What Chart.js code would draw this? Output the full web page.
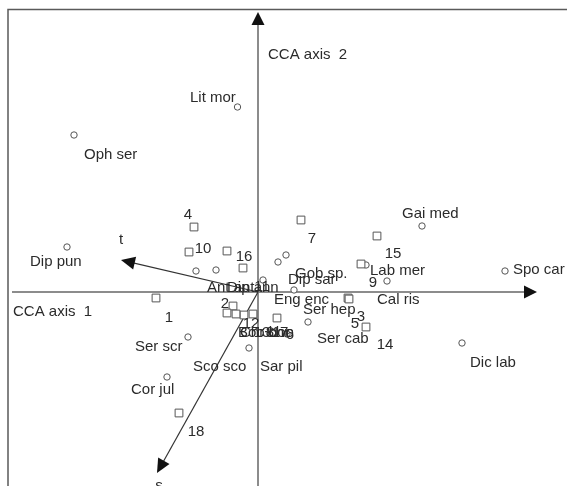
<!DOCTYPE html>
<html>
<head>
<meta charset="utf-8">
<script src="https://cdn.jsdelivr.net/npm/chart.js@4/dist/chart.umd.min.js"></script>
<style>
  html, body { margin: 0; padding: 0; background: #fff; overflow: hidden; }
  canvas { display: block; }
</style>
</head>
<body>
<canvas id="cca" width="567" height="486"></canvas>
<script>
// CCA biplot: species scores (circles), site scores (squares), environmental vectors (arrows)

// Species scores on CCA axis 1 / axis 2 (null = label only)
const speciesNames = ["Lit mor", "Oph ser", "Dip pun", "Gai med", "Spo car", "Dic lab", "Lab mer", "Cal ris",
  "Gob sp.", "Dip sar", "Dip ann", "Eng enc", "Ser hep", "Sar pil", "Ser scr", "Cor jul", "Ant ant", "Sco sco",
  "Chr chr", "Ser cab", "Boo boo"];
const speciesX = [-0.205, -1.84, -1.91, 1.64, 2.47, 2.04, 1.08, 1.29,
  0.28, 0.20, 0.05, 0.36, 0.50, -0.09, -0.70, -0.91, -0.62, -0.42,
  0.29, null, null];
const speciesY = [1.85, 1.57, 0.45, 0.66, 0.21, -0.51, 0.27, 0.11,
  0.37, 0.30, 0.12, 0.02, -0.30, -0.56, -0.45, -0.85, 0.21, 0.22,
  -0.42, null, null];
// Where each species name is written (left edge, middle)
const speciesLabelX = [-0.68, -1.74, -2.28, 1.44, 2.55, 2.12, 1.12, 1.19,
  0.37, 0.30, -0.31, 0.16, 0.45, 0.02, -1.23, -1.27, -0.51, -0.65,
  -0.18, 0.59, -0.20];
const speciesLabelY = [1.96, 1.39, 0.32, 0.80, 0.24, -0.69, 0.23, -0.06,
  0.20, 0.14, 0.06, -0.06, -0.16, -0.73, -0.53, -0.96, 0.06, -0.73,
  -0.39, -0.45, -0.39];

// Site scores
const siteNames = ["1", "2", "3", "4", "5", "6", "7", "8", "9", "10", "11", "12", "13", "14", "15", "16", "17", "18"];
const siteX = [-1.02, -0.25, 0.90, -0.64, 0.91, 0.19, 0.43, -0.14, 1.03, -0.69, -0.31, -0.05, -0.22, 1.08, 1.19, -0.31, -0.15, -0.79];
const siteY = [-0.06, -0.14, -0.06, 0.65, -0.07, -0.26, 0.72, -0.23, 0.28, 0.40, -0.21, -0.22, -0.22, -0.35, 0.56, 0.41, 0.24, -1.21];
// Where each site number is written (centre)
const siteLabelX = [-0.89, -0.33, 1.03, -0.70, 0.97, 0.32, 0.54, 0.12, 1.15, -0.55, 0.04, -0.07, 0.04, 1.27, 1.35, -0.14, 0.22, -0.62];
const siteLabelY = [-0.24, -0.10, -0.23, 0.79, -0.30, -0.41, 0.55, -0.39, 0.11, 0.45, 0.07, -0.30, -0.39, -0.51, 0.40, 0.37, -0.39, -1.38];

// Environmental variables (vector tips)
const envNames = ["t", "s"];
const envX = [-1.37, -1.01];
const envY = [0.32, -1.81];
const envLabelX = [-1.37, -0.99];
const envLabelY = [0.54, -1.92];

// Ordination axes
const axisNames = ["CCA axis  1", "CCA axis  2"];
const axis1Range = [-2.46, 2.79];
const axis2Range = [-2.0, 2.80];
const axisLabelX = [-2.45, 0.10];
const axisLabelY = [-0.18, 2.39];
const frameCorner = [-2.50, 2.825];

const TEXT = '#2b2b2b';
const FONT = '15px "Liberation Sans", Arial, sans-serif';
const TEXT_NUDGE = 1.5;   // visual centring of mixed-case text

function arrowHead(ctx, x0, y0, x1, y1, len, half) {
  const a = Math.atan2(y1 - y0, x1 - x0);
  const c = Math.cos(a), s = Math.sin(a);
  const bx = x1 - c * len, by = y1 - s * len;
  ctx.beginPath();
  ctx.moveTo(x1, y1);
  ctx.lineTo(bx - s * half, by + c * half);
  ctx.lineTo(bx + s * half, by - c * half);
  ctx.closePath();
  ctx.fill();
}

const biplotFurniture = {
  id: 'biplotFurniture',
  beforeDatasetsDraw(chart) {
    const ctx = chart.ctx, xs = chart.scales.x, ys = chart.scales.y;
    const X = v => xs.getPixelForValue(v), Y = v => ys.getPixelForValue(v);
    ctx.save();
    // frame
    ctx.strokeStyle = '#5a5a5a';
    ctx.lineWidth = 1.5;
    ctx.beginPath();
    ctx.moveTo(X(frameCorner[0]), chart.height + 5);
    ctx.lineTo(X(frameCorner[0]), Y(frameCorner[1]));
    ctx.lineTo(chart.width + 5, Y(frameCorner[1]));
    ctx.stroke();
    // ordination axes
    ctx.strokeStyle = '#8c8c8c';
    ctx.fillStyle = '#111';
    ctx.lineWidth = 2;
    ctx.beginPath();
    ctx.moveTo(X(axis1Range[0]), Y(0));
    ctx.lineTo(X(axis1Range[1]) - 8, Y(0));
    ctx.moveTo(X(0), Y(axis2Range[0]));
    ctx.lineTo(X(0), Y(axis2Range[1]) + 8);
    ctx.stroke();
    arrowHead(ctx, X(0), Y(0), X(axis1Range[1]), Y(0), 13, 6.5);
    arrowHead(ctx, X(0), Y(0), X(0), Y(axis2Range[1]), 13, 6.5);
    // environmental vectors
    ctx.strokeStyle = '#333';
    ctx.fillStyle = '#111';
    ctx.lineWidth = 1.2;
    for (let i = 0; i < envNames.length; i++) {
      const x0 = X(0), y0 = Y(0), x1 = X(envX[i]), y1 = Y(envY[i]);
      const a = Math.atan2(y1 - y0, x1 - x0);
      ctx.beginPath();
      ctx.moveTo(x0, y0);
      ctx.lineTo(x1 - Math.cos(a) * 8, y1 - Math.sin(a) * 8);
      ctx.stroke();
      arrowHead(ctx, x0, y0, x1, y1, 14, 6.5);
    }
    ctx.restore();
  },
  afterDatasetsDraw(chart) {
    const ctx = chart.ctx, xs = chart.scales.x, ys = chart.scales.y;
    const X = v => xs.getPixelForValue(v), Y = v => ys.getPixelForValue(v) + TEXT_NUDGE;
    ctx.save();
    ctx.font = FONT;
    ctx.fillStyle = TEXT;
    ctx.textBaseline = 'middle';
    ctx.textAlign = 'left';
    speciesNames.forEach((n, i) => ctx.fillText(n, X(speciesLabelX[i]), Y(speciesLabelY[i])));
    axisNames.forEach((n, i) => ctx.fillText(n, X(axisLabelX[i]), Y(axisLabelY[i])));
    ctx.textAlign = 'center';
    siteNames.forEach((n, i) => ctx.fillText(n, X(siteLabelX[i]), Y(siteLabelY[i])));
    envNames.forEach((n, i) => ctx.fillText(n, X(envLabelX[i]), Y(envLabelY[i])));
    ctx.restore();
  }
};

const toPoints = (xs, ys) => xs.map((x, i) => (x === null ? null : { x: x, y: ys[i] })).filter(p => p);

new Chart(document.getElementById('cca'), {
  type: 'scatter',
  data: {
    datasets: [
      {
        label: 'Sites',
        data: toPoints(siteX, siteY),
        pointStyle: 'rect',
        pointRadius: 5.5,
        borderColor: '#555',
        backgroundColor: '#fff',
        borderWidth: 1
      },
      {
        label: 'Species',
        data: toPoints(speciesX, speciesY),
        pointStyle: 'circle',
        pointRadius: 3.2,
        borderColor: '#555',
        backgroundColor: '#fff',
        borderWidth: 1
      }
    ]
  },
  options: {
    responsive: false,
    animation: false,
    layout: { padding: 0, autoPadding: false },
    plugins: { legend: { display: false }, tooltip: { enabled: false } },
    scales: {
      x: { type: 'linear', min: -2.58, max: 3.09, display: false },
      y: { type: 'linear', min: -1.94, max: 2.92, display: false }
    }
  },
  plugins: [biplotFurniture]
});
</script>
</body>
</html>
